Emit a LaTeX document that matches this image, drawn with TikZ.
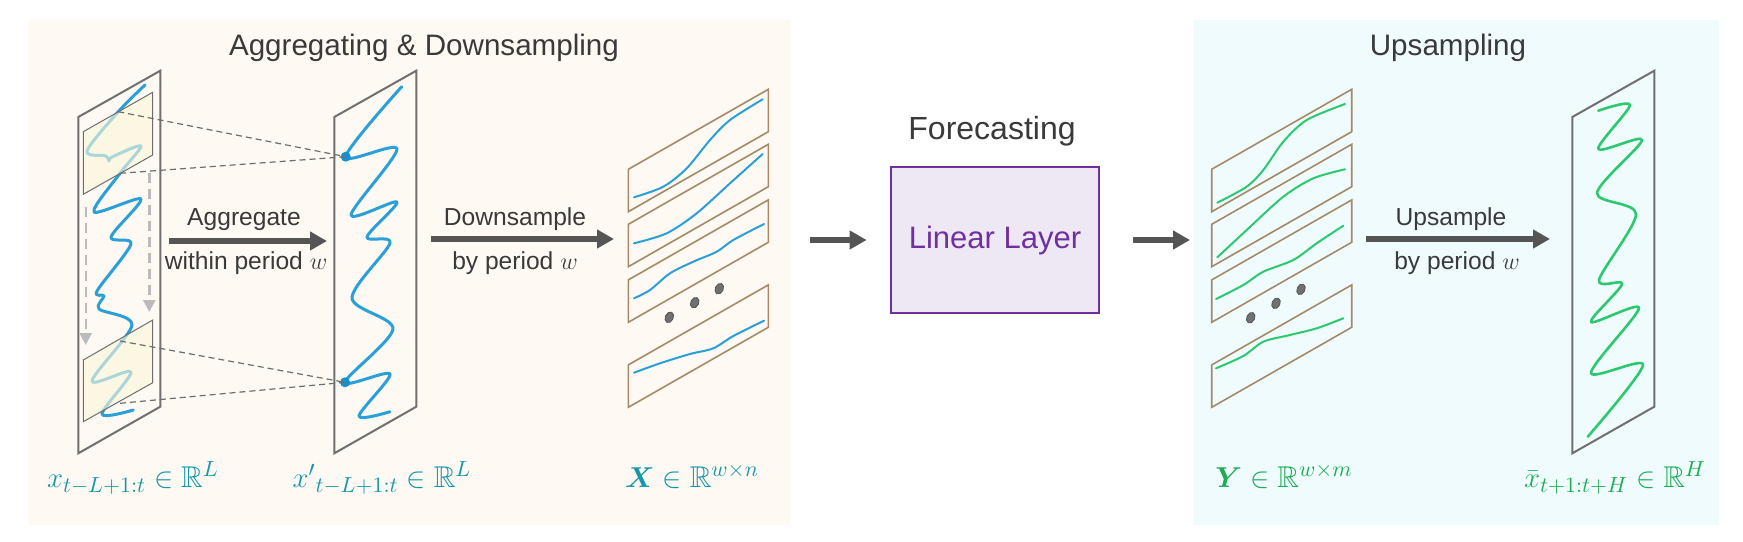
\documentclass[tikz,border=0pt]{standalone}
\usepackage{amsmath}
\usepackage{amssymb}
\usepackage{fontspec}
\setmainfont{Liberation Sans}
\usepackage{xcolor}
\usetikzlibrary{arrows.meta}

\definecolor{aggbg}{HTML}{FEF9F3}
\definecolor{upbg}{HTML}{EFFBFD}
\definecolor{txtgray}{HTML}{3A3A3A}
\definecolor{stripgray}{HTML}{707070}
\definecolor{slabbrown}{HTML}{A58A68}
\definecolor{winyellow}{HTML}{FBF7D8}
\definecolor{serblue}{HTML}{2A9FD8}
\definecolor{sergreen}{HTML}{2DC970}
\definecolor{dotblue}{HTML}{1A8FD0}
\definecolor{arrgray}{HTML}{555555}
\definecolor{slidegray}{HTML}{BBBBBB}
\definecolor{linkgray}{HTML}{6E6E6E}
\definecolor{boxpurple}{HTML}{7030A0}
\definecolor{boxfill}{HTML}{EEE8F4}
\definecolor{lblteal}{HTML}{1497AB}
\definecolor{lblgreen}{HTML}{1CAE55}

\begin{document}
\begin{tikzpicture}[
      x=0.5pt, y=-0.5pt,
      ttl/.style={text=txtgray, anchor=base, font=\fontsize{14.8}{17}\selectfont},
      lbl/.style={text=txtgray, anchor=base, font=\fontsize{12.3}{14}\selectfont},
      mlbl/.style={anchor=base, font=\fontsize{15}{18}\selectfont},
      strip/.style={draw=stripgray, line width=1pt},
      slab/.style={draw=slabbrown, line width=0.8pt},
      win/.style={draw=linkgray, line width=0.5pt, fill=winyellow, fill opacity=0.62},
      series/.style={draw=serblue, line width=1.5pt, line cap=round, line join=round},
      subser/.style={draw=serblue, line width=1pt, line cap=round},
      link/.style={draw=linkgray, line width=0.6pt, dash pattern=on 3pt off 2pt},
      slide/.style={draw=slidegray, line width=1.2pt, dash pattern=on 5pt off 3pt, -{Triangle[length=6pt,width=6pt]}},
      arr/.style={draw=arrgray, line width=3pt, -{Triangle[length=8.5pt,width=9pt]}}
    ]
    \fill[white] (0,0) rectangle (1743,541);
    \fill[aggbg] (28,20) rectangle (790,525);
    \fill[upbg] (1193,20) rectangle (1719,525);

    \node[ttl] (ttlAgg) at (424,55) {Aggregating \& Downsampling};
    \node[ttl] (ttlUp) at (1448,55) {Upsampling};
    \node[ttl, font=\fontsize{16}{19}\selectfont] (ttlFc) at (992,139) {Forecasting};

    \foreach \x in {78.3, 334.3, 1572.3}
      \draw[strip] (\x,117) -- ++(82,-46.3) -- ++(0,336) -- ++(-82,46.6) -- cycle;
    \foreach \x in {628.3, 1211.7}
      \foreach \y in {211.7, 266.7, 322.3, 407.3}
        \draw[slab] (\x,\y) -- ++(0,-42.4) -- ++(140,-80) -- ++(0,42.4) -- cycle;

    \draw[series] plot[smooth, tension=0.5] coordinates {(145,85) (118.3,111.7) (87,151) (106,156) (109,161) (112,157) (141,146) (120,173.3) (94,212) (141,199) (111,237) (131,244) (97,291) (104,296) (99,309) (132,325) (92,381) (131,372) (102,414) (133.3,410)};
    \draw[win] (83.3,131.7) -- (152.7,92.3) -- (152.7,155) -- (83.3,194.3) -- cycle;
    \draw[win] (83.3,360) -- (152.7,320) -- (152.7,382.7) -- (83.3,421.7) -- cycle;

    \draw[series] plot[smooth, tension=0.5] coordinates {(401.7,86.7) (345.7,156.7) (397,149) (351,215) (397,202) (367,237) (390,243) (352,298) (393,329) (345,382.3) (390,374) (359,416) (390,411.7)};

    \coordinate (winA) at (118.3,111.7);
    \coordinate (winB) at (120,173.3);
    \coordinate (winC) at (120,341);
    \coordinate (winD) at (120,403.3);
    \node[circle, fill=dotblue, inner sep=0pt, minimum size=5pt] (avgTop) at (345.7,156.7) {};
    \node[circle, fill=dotblue, inner sep=0pt, minimum size=5pt] (avgBot) at (345,382.3) {};
    \draw[link] (winA) -- (avgTop.center);
    \draw[link] (winB) -- (avgTop.center);
    \draw[link] (winC) -- (avgBot.center);
    \draw[link] (winD) -- (avgBot.center);

    \coordinate (slideA) at (85.7,206.7);
    \coordinate (slideAe) at (85.7,345);
    \coordinate (slideB) at (149.3,173.3);
    \coordinate (slideBe) at (149.3,312);
    \draw[slide] (slideA) -- (slideAe);
    \draw[slide] (slideB) -- (slideBe);

    \draw[subser] plot[smooth] coordinates {(634,197.3) (663.3,186.7) (686.7,168.3) (710,140) (730,120) (762.7,99.3)};
    \draw[subser] plot[smooth] coordinates {(634,243.3) (666.7,233.3) (696.7,213.3) (730,183.3) (762.7,154)};
    \draw[subser] plot[smooth] coordinates {(634,298.3) (650,290) (670,273.3) (693.3,261.7) (716.7,251.7) (733.3,240) (764,224)};
    \draw[subser] plot[smooth] coordinates {(634,372.7) (660,363.3) (690,354) (713.3,348.3) (733.3,336) (764,320.7)};

    \draw[subser, draw=sergreen] plot[smooth] coordinates {(1217.3,202.7) (1246.7,186.7) (1263.3,170) (1283.3,141.7) (1306.7,120) (1345,104)};
    \draw[subser, draw=sergreen] plot[smooth] coordinates {(1217.3,257.3) (1246.7,230) (1283.3,196.7) (1313.3,178.3) (1345,169.3)};
    \draw[subser, draw=sergreen] plot[smooth] coordinates {(1216,299) (1243.3,285) (1263.3,271.7) (1293.3,260) (1316.7,243.3) (1343.3,225.7)};
    \draw[subser, draw=sergreen] plot[smooth] coordinates {(1216,368.3) (1243.3,356) (1263.3,341.7) (1290,335) (1316.7,328.3) (1343.3,318.3)};

    \foreach \px/\py in {669.3/317.3, 694.7/302.7, 719.3/288.7, 1250.7/317.7, 1276/303.3, 1301/289.3}
      \filldraw[draw=arrgray, fill=stripgray, shift={(\px,\py)}, rotate=-25] (0,0) ellipse (2pt and 2.8pt);

    \draw[series, draw=sergreen, line width=1.3pt] plot[smooth, tension=0.5] coordinates {(1598.3,110.7) (1630,105) (1598.3,149) (1642,140) (1597,193) (1636,214) (1599,280) (1622,284) (1591,322) (1639,308) (1591,373) (1643,365) (1587.7,436.7)};

    \node[draw=boxpurple, fill=boxfill, line width=1.4pt, minimum width=104pt, minimum height=73pt, text=boxpurple, font=\fontsize{15.5}{18}\selectfont] (linear) at (995,240) {Linear Layer};

    \coordinate (aggS) at (169,241);
    \coordinate (aggE) at (327,241);
    \coordinate (downS) at (431,239);
    \coordinate (downE) at (614,239);
    \coordinate (fcS) at (810,240);
    \coordinate (fcE) at (1190,240);
    \coordinate (upS) at (1366,239);
    \coordinate (upE) at (1550,239);
    \draw[arr] (aggS) -- (aggE);
    \draw[arr] (downS) -- (downE);
    \draw[arr, shorten >=11.5pt] (fcS) -- (linear.west);
    \draw[arr, shorten <=16.5pt] (linear.east) -- (fcE);
    \draw[arr] (upS) -- (upE);

    \node[lbl] (aggTop) at (244,225) {Aggregate};
    \node[lbl] (aggBot) at (246,269) {within period $w$};
    \node[lbl] (downTop) at (515,225) {Downsample};
    \node[lbl] (downBot) at (515,269) {by period $w$};
    \node[lbl] (upTop) at (1451,225) {Upsample};
    \node[lbl] (upBot) at (1457,269) {by period $w$};

    \node[mlbl, text=lblteal] (lblx) at (133,487) {$x_{t-L+1:t}\in\mathbb{R}^{L}$};
    \node[mlbl, text=lblteal] (lblxp) at (382,487) {${x'}_{t-L+1:t}\in\mathbb{R}^{L}$};
    \node[mlbl, text=lblteal] (lblX) at (692,487) {$\boldsymbol{X}\in\mathbb{R}^{w\times n}$};
    \node[mlbl, text=lblgreen] (lblY) at (1284,487) {$\boldsymbol{Y}\in\mathbb{R}^{w\times m}$};
    \node[mlbl, text=lblgreen] (lblxbar) at (1615,487) {$\bar{x}_{t+1:t+H}\in\mathbb{R}^{H}$};
  \end{tikzpicture}
\end{document}
